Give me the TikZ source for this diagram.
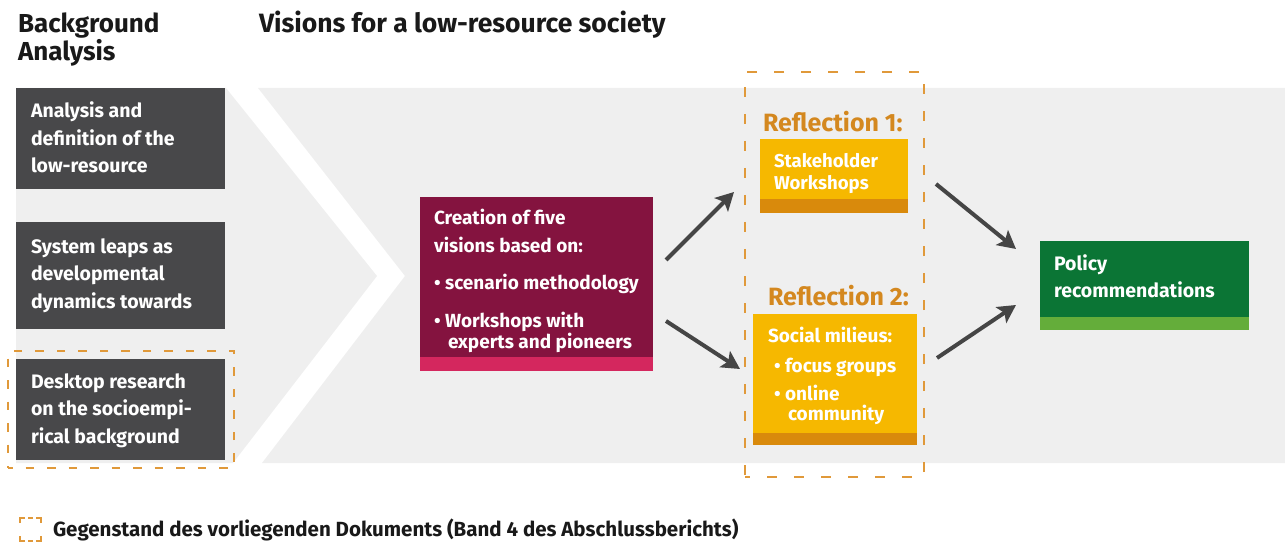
\documentclass[tikz,border=0pt]{standalone}
\usepackage{fontspec}
\setmainfont{Fira Sans}
\usetikzlibrary{arrows.meta}
\definecolor{bggrey}{HTML}{EFEFEF}
\definecolor{darkbox}{HTML}{48484A}
\definecolor{maroon}{HTML}{84133F}
\definecolor{maroonstripe}{HTML}{D4275E}
\definecolor{yellowbox}{HTML}{F6B800}
\definecolor{yellowstripe}{HTML}{D98A0C}
\definecolor{orangetext}{HTML}{D4881F}
\definecolor{dashorange}{HTML}{E0993A}
\definecolor{greenbox}{HTML}{0B7535}
\definecolor{greenstripe}{HTML}{64AD3A}
\definecolor{arrowgrey}{HTML}{454545}
\newcommand\mylines[2]{\parbox[t]{#1}{\raggedright #2}}
\tikzset{
  boxnode/.style={inner sep=0, outer sep=0, draw=none},
  txt/.style={anchor=base west, inner sep=0, outer sep=0, text=white,
    font=\bfseries\fontsize{19.5}{27.5}\selectfont},
  headtxt/.style={anchor=base west, inner sep=0, outer sep=0, text=black!90,
    font=\bfseries\fontsize{26}{26}\selectfont},
  dashbox/.style={draw=dashorange, line width=2.5pt, inner sep=0, outer sep=0},
  legdash/.style={draw=dashorange, line width=2.2pt},
  arr/.style={draw=arrowgrey, line width=4pt,
    -{Stealth[length=18pt, width=19pt, inset=4pt]}},
}
\begin{document}
\begin{tikzpicture}[x=1pt,y=-1pt]
\useasboundingbox (0,0) rectangle (1285,548);
% background with chevron
\fill[bggrey] (16,88) -- (226,88) -- (377,276) -- (233,463) -- (16,463) -- cycle;
\fill[bggrey] (258,88) -- (1285,88) -- (1285,463) -- (262,463) -- (405,276) -- cycle;
% headers
\node[headtxt] (h1) at (18,33) {\mylines{200pt}{Background\\Analysis}};
\node[headtxt, font=\bfseries\fontsize{26.5}{26}\selectfont] (h2) at (259,33) {Visions for a low-resource society};
% left boxes
\node[boxnode, fill=darkbox, minimum width=209, minimum height=101] (a1) at (120.5,138.5) {};
\node[boxnode, fill=darkbox, minimum width=209, minimum height=107] (a2) at (120.5,275.5) {};
\node[boxnode, fill=darkbox, minimum width=209, minimum height=101] (a3) at (120.5,409.5) {};
\node[txt] (a1t) at (31,118) {\mylines{190pt}{Analysis and\\definition of the\\low-resource}};
\node[txt] (a2t) at (31,253) {\mylines{190pt}{System leaps as\\developmental\\dynamics towards}};
\node[txt] (a3t) at (31,388) {\mylines{190pt}{Desktop research\\on the socioempi-\\rical background}};
\node[dashbox, minimum width=226, minimum height=117, dash pattern=on 8.5pt off 13pt, dash phase=4pt] (d1) at (121,409.5) {};
% central box
\node[boxnode, fill=maroon, minimum width=233, minimum height=174] (c) at (536.5,284) {};
\fill[maroonstripe] (c.south west) rectangle ([yshift=14pt]c.south east);
\node[txt, font=\bfseries\fontsize{19}{19}\selectfont] (ct) at (434,225)
  {\mylines{215pt}{Creation of five\\[9pt]visions based on:\\[18pt]\textbullet\ scenario methodology\\[17pt]\textbullet\ Workshops with\\\hspace*{14pt}experts and pioneers}};
% reflection area
\node[dashbox, minimum width=179, minimum height=405, dash pattern=on 10pt off 17pt, dash phase=5pt] (d2) at (834.5,274.5) {};
\node[headtxt, text=orangetext, font=\bfseries\fontsize{25}{26}\selectfont] (r1h) at (763,132) {Reflection 1:};
\node[boxnode, fill=yellowbox, minimum width=148, minimum height=74] (r1) at (834,176) {};
\fill[yellowstripe] (r1.south west) rectangle ([yshift=14pt]r1.south east);
\node[txt, font=\bfseries\fontsize{18.6}{22}\selectfont] (r1t) at (774,168) {\mylines{130pt}{Stakeholder\\Workshops}};
\node[headtxt, text=orangetext, font=\bfseries\fontsize{25}{26}\selectfont] (r2h) at (768,305) {Reflection 2:};
\node[boxnode, fill=yellowbox, minimum width=164, minimum height=131] (r2) at (835,379.5) {};
\fill[yellowstripe] (r2.south west) rectangle ([yshift=12pt]r2.south east);
\node[txt, font=\bfseries\fontsize{19}{20}\selectfont] (r2t) at (768,342)
  {\mylines{150pt}{Social milieus:\\[10pt]\hspace*{6pt}\textbullet\ focus groups\\[8pt]\hspace*{6pt}\textbullet\ online\\\hspace*{20pt}community}};
% policy box
\node[boxnode, fill=greenbox, minimum width=209, minimum height=89] (p) at (1144.5,285.5) {};
\fill[greenstripe] (p.south west) rectangle ([yshift=13pt]p.south east);
\node[txt, font=\bfseries\fontsize{19.5}{27}\selectfont] (pt) at (1054,270) {\mylines{190pt}{Policy\\recommendations}};
% arrows
\coordinate (s1) at (666,260); \coordinate (e1) at (734,192);
\coordinate (s2) at (666,321); \coordinate (e2) at (740,369);
\coordinate (s3) at (936,184); \coordinate (e3) at (1016,249);
\coordinate (s4) at (937,358); \coordinate (e4) at (1016,305);
\draw[arr] (s1) -- (e1);
\draw[arr] (s2) -- (e2);
\draw[arr] (s3) -- (e3);
\draw[arr] (s4) -- (e4);
% legend symbol (dashed frame: corners and middle dashes)
\draw[legdash] (20,523) |- (25,518);
\draw[legdash] (36,518) -| (41,523);
\draw[legdash] (20,536) |- (25,541);
\draw[legdash] (36,541) -| (41,536);
\draw[legdash] (28,518) -- (33,518);
\draw[legdash] (28,541) -- (33,541);
\node[txt, text=black!90, font=\bfseries\fontsize{20.5}{20}\selectfont] (lgt) at (53,536) {Gegenstand des vorliegenden Dokuments (Band 4 des Abschlussberichts)};
\end{tikzpicture}
\end{document}
